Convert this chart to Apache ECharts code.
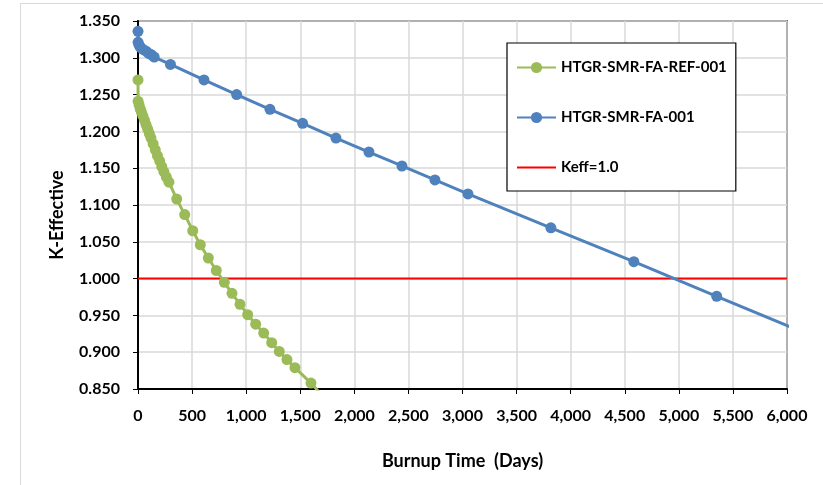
<!DOCTYPE html>
<html>
<head>
<meta charset="utf-8">
<script src="https://cdn.jsdelivr.net/npm/echarts@6/dist/echarts.min.js"></script>
<style>
html,body{margin:0;padding:0;background:#fff;}
#chart{width:823px;height:485px;}
</style>
</head>
<body>
<div id="chart"></div>
<script>
// Data
const seriesNames = ['HTGR-SMR-FA-REF-001', 'HTGR-SMR-FA-001', 'Keff=1.0'];

const refDays = [0, 1, 10, 20, 30, 45, 60, 75, 90, 105, 120, 140, 160, 180, 200, 220, 240, 262, 286,
  358, 432, 506, 576, 650, 724, 798, 869, 943, 1014, 1088, 1162, 1236, 1306, 1377, 1451, 1599, 1673];
const refKeff = [1.270, 1.241, 1.236, 1.231, 1.227, 1.221, 1.215, 1.209, 1.203, 1.197, 1.191, 1.183, 1.175, 1.167, 1.160, 1.152, 1.145, 1.138, 1.131,
  1.108, 1.087, 1.065, 1.046, 1.028, 1.011, 0.995, 0.980, 0.965, 0.951, 0.938, 0.926, 0.913, 0.901, 0.890, 0.879, 0.858, 0.846];

const faDays = [0, 1, 10, 25, 50, 75, 100, 125, 150, 300, 610, 912, 1220, 1522, 1830, 2135, 2440, 2745, 3050, 3817, 4584, 5350, 6117];
const faKeff = [1.336, 1.321, 1.317, 1.314, 1.311, 1.309, 1.306, 1.304, 1.301, 1.291, 1.270, 1.250, 1.230, 1.211, 1.191, 1.172, 1.153, 1.134, 1.115, 1.069, 1.023, 0.976, 0.929];

const limitDays = [0, 6000];
const limitKeff = [1.0, 1.0];

const xTicks = [0, 500, 1000, 1500, 2000, 2500, 3000, 3500, 4000, 4500, 5000, 5500, 6000];
const yTicks = [0.85, 0.90, 0.95, 1.00, 1.05, 1.10, 1.15, 1.20, 1.25, 1.30, 1.35];

const xTitle = 'Burnup Time  (Days)';
const yTitle = 'K-Effective';

function pairs(xs, ys) { return xs.map((x, i) => [x, ys[i]]); }

const FONT = 'Lato, "Liberation Sans", sans-serif';
const chart = echarts.init(document.getElementById('chart'), null, {renderer: 'canvas'});

chart.setOption({
  animation: false,
  backgroundColor: '#fff',
  graphic: [{
    type: 'rect', z: -10, silent: true,
    shape: {x: 20.5, y: 3.5, width: 900, height: 600},
    style: {fill: 'none', stroke: '#d9d9d9', lineWidth: 1}
  }],
  grid: {
    left: 138, right: 36, top: 21, bottom: 96,
    show: true, borderColor: '#000', borderWidth: 1.5, backgroundColor: 'transparent'
  },
  legend: {
    orient: 'vertical',
    left: 507, top: 43,
    padding: [17, 9, 16, 9],
    itemGap: 35,
    itemWidth: 39, itemHeight: 14,
    backgroundColor: '#fff',
    borderColor: '#000', borderWidth: 1.2,
    textStyle: {fontFamily: FONT, fontWeight: 'bold', fontSize: 15, color: '#000'},
    data: [
      {name: seriesNames[0]},
      {name: seriesNames[1]},
      {name: seriesNames[2], itemStyle: {opacity: 0}}
    ]
  },
  xAxis: {
    type: 'value', min: xTicks[0], max: xTicks[xTicks.length - 1], interval: 500,
    name: xTitle, nameLocation: 'middle', nameGap: 63,
    nameTextStyle: {fontFamily: FONT, fontWeight: 'bold', fontSize: 18, color: '#000'},
    axisLine: {show: true, onZero: false, lineStyle: {color: '#000', width: 2}},
    axisTick: {show: true, length: 5, lineStyle: {color: '#000', width: 1}},
    axisLabel: {
      margin: 19, fontFamily: FONT, fontWeight: 'bold', fontSize: 16, color: '#000',
      formatter: v => v.toLocaleString('en-US')
    },
    splitLine: {show: true, lineStyle: {color: '#d9d9d9', width: 1.5}}
  },
  yAxis: {
    type: 'value', min: yTicks[0], max: yTicks[yTicks.length - 1], interval: 0.05,
    name: yTitle, nameLocation: 'middle', nameGap: 72,
    nameTextStyle: {fontFamily: FONT, fontWeight: 'bold', fontSize: 18, color: '#000', padding: [0, 20, 0, 0]},
    axisLine: {show: true, onZero: false, lineStyle: {color: '#000', width: 2}},
    axisTick: {show: true, length: 5, lineStyle: {color: '#000', width: 1}},
    axisLabel: {
      margin: 18, fontFamily: FONT, fontWeight: 'bold', fontSize: 16, color: '#000',
      formatter: v => v.toFixed(3)
    },
    splitLine: {show: true, lineStyle: {color: '#d9d9d9', width: 1.5}}
  },
  series: [
    {
      name: seriesNames[0], type: 'line', data: pairs(refDays, refKeff),
      symbol: 'circle', symbolSize: 11, clip: true, z: 3,
      lineStyle: {color: '#9BBB59', width: 3},
      itemStyle: {color: '#9BBB59'}
    },
    {
      name: seriesNames[1], type: 'line', data: pairs(faDays, faKeff),
      symbol: 'circle', symbolSize: 11, clip: true, z: 3,
      lineStyle: {color: '#4F81BD', width: 3},
      itemStyle: {color: '#4F81BD'}
    },
    {
      name: seriesNames[2], type: 'line', data: pairs(limitDays, limitKeff),
      symbol: 'none', showSymbol: false, clip: true, z: 2,
      lineStyle: {color: '#FF0000', width: 2},
      itemStyle: {color: '#FF0000'}
    }
  ]
});
</script>
</body>
</html>
